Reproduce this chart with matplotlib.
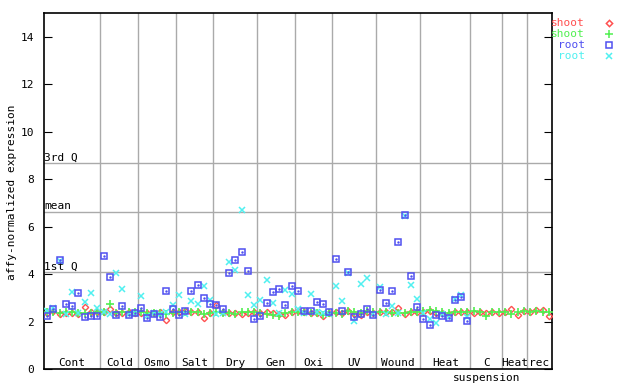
import numpy as np
import matplotlib
matplotlib.use("Agg")
import matplotlib.pyplot as plt
from matplotlib.lines import Line2D

# experiment groups along the x axis and how many samples each one holds
groups = ["Cont", "Cold", "Osmo", "Salt", "Dry", "Gen", "Oxi", "UV", "Wound",
          "Heat", "C", "Heat", "rec"]
counts = [9, 6, 6, 6, 7, 6, 6, 7, 7, 8, 5, 4, 4]

# summary lines
quart_names = ["1st Q", "mean", "3rd Q"]
quart_values = [4.08, 6.61, 8.68]

# shoot replicate 1 (red diamonds)
shoot_red = [2.38, 2.45, 2.33, 2.38, 2.38, 2.33, 2.62, 2.42, 2.40,
             2.40, 2.53, 2.36, 2.38, 2.40, 2.38,
             2.38, 2.34, 2.37, 2.40, 2.08, 2.40,
             2.42, 2.45, 2.40, 2.42, 2.16, 2.36,
             2.70, 2.40, 2.38, 2.36, 2.30, 2.38, 2.42,
             2.36, 2.40, 2.38, 2.30, 2.26, 2.40,
             2.45, 2.40, 2.38, 2.35, 2.22, 2.38,
             2.40, 2.38, 2.45, 2.30, 2.28, 2.42, 2.38,
             2.40, 2.42, 2.40, 2.56, 2.33, 2.40, 2.42,
             2.40, 2.45, 2.38, 2.35, 2.33, 2.40, 2.42, 2.42,
             2.35, 2.42, 2.38, 2.42, 2.36,
             2.40, 2.52, 2.28, 2.43,
             2.42, 2.49, 2.49, 2.25]

# shoot replicate 2 (green plus)
shoot_green = [2.40, 2.42, 2.38, 2.40, 2.40, 2.36, 2.36, 2.38, 2.42,
               2.42, 2.75, 2.38, 2.40, 2.42, 2.40,
               2.40, 2.36, 2.38, 2.38, 2.32, 2.36,
               2.40, 2.42, 2.40, 2.42, 2.33, 2.38,
               2.40, 2.38, 2.35, 2.32, 2.40, 2.42, 2.42,
               2.36, 2.30, 2.28, 2.24, 2.36, 2.40,
               2.42, 2.42, 2.36, 2.38, 2.26, 2.36,
               2.38, 2.30, 2.45, 2.40, 2.38, 2.45, 2.40,
               2.42, 2.42, 2.38, 2.35, 2.36, 2.40, 2.42,
               2.45, 2.50, 2.45, 2.40, 2.36, 2.42, 2.40, 2.42,
               2.46, 2.42, 2.25, 2.42, 2.40,
               2.42, 2.32, 2.42, 2.46,
               2.42, 2.46, 2.42, 2.42]

nan = np.nan
# root replicate 1 (blue squares)
root_blue = [2.24, 2.52, 4.60, 2.73, 2.66, 3.19, 2.18, 2.24, 2.24,
             4.77, 3.88, 2.27, 2.66, 2.27, 2.35,
             2.56, 2.14, 2.32, 2.21, 3.29, 2.52,
             2.27, 2.45, 3.29, 3.54, 2.98, 2.73,
             2.70, 2.52, 4.04, 4.60, 4.92, 4.12, 2.11,
             2.25, 2.77, 3.24, 3.36, 2.69, 3.49,
             3.28, 2.44, 2.46, 2.82, 2.74, 2.42,
             4.63, 2.43, 4.08, 2.21, 2.31, 2.52, 2.27,
             3.33, 2.77, 3.28, 5.35, 6.50, 3.91, 2.60,
             2.11, 1.84, 2.26, 2.22, 2.14, 2.91, 3.05, 2.01,
             nan, nan, nan, nan, nan,
             nan, nan, nan, nan,
             nan, nan, nan, nan]

# root replicate 2 (cyan crosses)
root_cyan = [2.43, 2.56, 4.55, 2.32, 3.24, 2.38, 2.82, 3.20, 2.57,
             2.42, 2.33, 4.04, 3.36, 2.30, 2.38,
             3.07, 2.25, 2.36, 2.30, 2.40, 2.70,
             3.12, 2.30, 2.86, 2.73, 3.50, 2.89,
             2.30, 2.35, 4.50, 4.17, 6.71, 3.11, 2.69,
             2.90, 3.74, 2.77, 2.38, 3.33, 3.15,
             2.52, 2.35, 3.15, 2.40, 2.38, 2.30,
             3.50, 2.86, 4.04, 2.01, 3.58, 3.83, 2.33,
             3.46, 2.30, 2.66, 2.35, 6.45, 3.54, 2.95,
             2.35, 2.11, 1.93, 2.30, 2.20, 2.95, 3.10, 2.20,
             nan, nan, nan, nan, nan,
             nan, nan, nan, nan,
             nan, nan, nan, nan]

RED = "#ff5050"
GREEN = "#50f050"
BLUE = "#5050f0"
CYAN = "#50f0f0"
GRID = "#aaaaaa"

plt.rcParams["font.family"] = "DejaVu Sans Mono"
plt.rcParams["font.size"] = 8

fig = plt.figure(figsize=(6.4, 3.84), dpi=100)
ax = fig.add_axes([44 / 640, 15 / 384, 508 / 640, 356 / 384])

n = sum(counts)
x = np.arange(n) + 0.5
ax.set_xlim(0, n)
ax.set_ylim(0, 15)

# group separators and labels
edges = np.cumsum([0] + counts)
for e in edges[1:-1]:
    ax.axvline(e, color=GRID, lw=1, zorder=1)
for name, a, b in zip(groups, edges[:-1], edges[1:]):
    ax.text((a + b) / 2, 0.03, name, ha="center", va="bottom")
c_idx = groups.index("C")
ax.text((edges[c_idx] + edges[c_idx + 1]) / 2, -0.15, "suspension",
        ha="center", va="top", clip_on=False)

# quartile / mean lines
for name, v in zip(quart_names, quart_values):
    ax.axhline(v, color=GRID, lw=1, zorder=1)
    ax.text(0.05, v + 0.03, name, ha="left", va="bottom")

ax.plot(x, shoot_red, ls="none", marker="D", ms=3.2, mfc="none", mec=RED, mew=1, zorder=3)
ax.plot(x, shoot_green, ls="none", marker="+", ms=5.5, mec=GREEN, mew=1.2, zorder=3)
ax.plot(x, root_blue, ls="none", marker="s", ms=4.2, mfc="none", mec=BLUE, mew=1.1, zorder=4)
ax.plot(x, root_blue, ls="none", marker=".", ms=1.5, color=BLUE, zorder=4)
ax.plot(x, root_cyan, ls="none", marker="x", ms=4.2, mec=CYAN, mew=1.1, zorder=3)

ax.set_xticks([])
ax.set_yticks(range(0, 15, 2))
ax.tick_params(axis="y", direction="in", length=6, right=True, pad=7)
for s in ax.spines.values():
    s.set_linewidth(1.2)

fig.text(12 / 640, 0.5, "affy-normalized expression", rotation=90,
         ha="center", va="center")

# legend outside the plot
legend = [("shoot", RED, "D", 3.2), ("shoot", GREEN, "+", 5.5),
          ("root", BLUE, "s", 4.2), ("root", CYAN, "x", 4.2)]
for k, (lab, col, mk, ms) in enumerate(legend):
    yy = 1 - (23 + 11 * k) / 384
    fig.text(585 / 640, yy, lab, color=col, ha="right", va="center")
    fig.lines.append(Line2D([609 / 640], [yy], transform=fig.transFigure,
                            marker=mk, ms=ms, mfc="none", mec=col, mew=1.1, ls="none"))

fig.savefig("out.png", dpi=100)
